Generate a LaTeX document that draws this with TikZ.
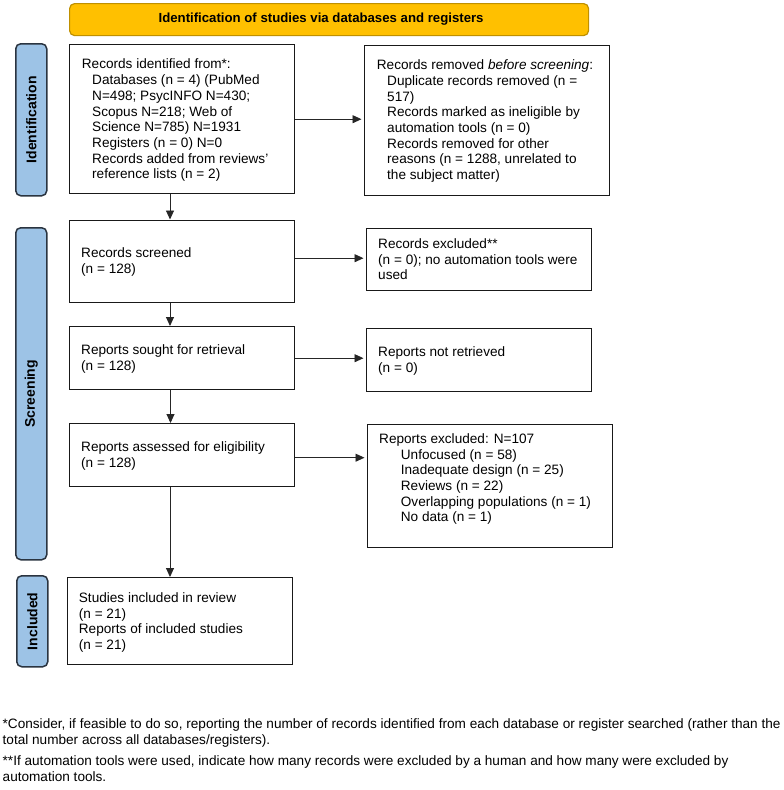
\documentclass[tikz,border=0pt]{standalone}
\usepackage{fontspec}
\setmainfont{Liberation Sans}
\usetikzlibrary{arrows.meta,calc}
\definecolor{titlefill}{HTML}{FFC000}
\definecolor{titleborder}{HTML}{BF9000}
\definecolor{phasefill}{HTML}{9DC3E6}
\definecolor{phaseborder}{HTML}{2A3440}
\begin{document}
\begin{tikzpicture}[x=1pt,y=-1pt,
  box/.style={draw=black!90,line width=1.4pt,rectangle,inner sep=0pt,anchor=north west},
  txt/.style={anchor=north west,inner sep=0pt,align=left,font=\fontsize{13.6}{15.7}\selectfont},
  foot/.style={anchor=north west,inner sep=0pt,align=left,font=\fontsize{13.6}{16}\selectfont},
  phase/.style={draw=phaseborder,fill=phasefill,line width=1.5pt,rounded corners=5pt,rectangle,inner sep=0pt,anchor=north west},
  phaselabel/.style={rotate=90,inner sep=0pt,font=\fontsize{14}{15}\selectfont\bfseries},
  titlebar/.style={draw=titleborder,fill=titlefill,line width=1.2pt,rounded corners=5pt,rectangle,inner sep=0pt,anchor=north west},
  titlelabel/.style={inner sep=0pt,font=\fontsize{13.2}{15}\selectfont\bfseries},
  arr/.style={draw=black!85,line width=0.9pt,-{Triangle[length=9pt,width=8pt]}},
  harr/.style={arr,shorten >=2.5pt}]
\useasboundingbox (0,0) rectangle (784,790);
% title
\node[titlebar,minimum width=519pt,minimum height=32pt] (title) at (69,3) {};
\node[titlelabel] (titlel) at ([xshift=-8pt]title.center) {Identification of studies via databases and registers};
% phase bars
\node[phase,minimum width=31pt,minimum height=152pt] (pid) at (15,43) {};
\node[phaselabel] (pidl) at (pid.center) {Identification};
\node[phase,minimum width=31pt,minimum height=332pt] (pscr) at (15,227) {};
\node[phaselabel] (pscrl) at (pscr.center) {Screening};
\node[phase,minimum width=31pt,minimum height=91pt] (pinc) at (16,575) {};
\node[phaselabel] (pincl) at (pinc.center) {Included};
% boxes
\node[box,minimum width=225pt,minimum height=149pt] (b1) at (69,44) {};
\node[box,minimum width=245pt,minimum height=150pt] (b2) at (364,44.5) {};
\node[box,minimum width=225pt,minimum height=82pt] (b3) at (69,219.5) {};
\node[box,minimum width=225pt,minimum height=62pt] (b4) at (366,228) {};
\node[box,minimum width=225pt,minimum height=63pt] (b5) at (69,326) {};
\node[box,minimum width=225pt,minimum height=63pt] (b6) at (366,328) {};
\node[box,minimum width=225pt,minimum height=63pt] (b7) at (69,423) {};
\node[box,minimum width=245pt,minimum height=123pt] (b8) at (367,424) {};
\node[box,minimum width=225pt,minimum height=87pt] (b9) at (67,577) {};
% texts
\node[txt] (t1) at (81.7,57.8) {\strut Records identified from*:\\
\hspace*{10.3pt}Databases (n = 4) (PubMed\\
\hspace*{10.3pt}N=498; PsycINFO N=430;\\
\hspace*{10.3pt}Scopus N=218; Web of\\
\hspace*{10.3pt}Science N=785) N=1931\\
\hspace*{10.3pt}Registers (n = 0) N=0\\
\hspace*{10.3pt}Records added from reviews'\\
\hspace*{10.3pt}reference lists (n = 2)};
\node[txt] (t2) at (376.7,58.5) {\strut Records removed \textit{before screening}:\\
\hspace*{10.3pt}Duplicate records removed (n =\\
\hspace*{10.3pt}517)\\
\hspace*{10.3pt}Records marked as ineligible by\\
\hspace*{10.3pt}automation tools (n = 0)\\
\hspace*{10.3pt}Records removed for other\\
\hspace*{10.3pt}reasons (n = 1288, unrelated to\\
\hspace*{10.3pt}the subject matter)};
\node[txt] (t3) at (81,246.5) {\strut Records screened\\(n = 128)};
\node[txt] (t4) at (378,237.2) {\strut Records excluded**\\(n = 0); no automation tools were\\used};
\node[txt] (t5) at (81,343.5) {\strut Reports sought for retrieval\\(n = 128)};
\node[txt] (t6) at (378,345.5) {\strut Reports not retrieved\\(n = 0)};
\node[txt] (t7) at (81,440.5) {\strut Reports assessed for eligibility\\(n = 128)};
\node[txt] (t8) at (379,432.2) {\strut Reports excluded: N=107\\
\hspace*{21.7pt}Unfocused (n = 58)\\
\hspace*{21.7pt}Inadequate design (n = 25)\\
\hspace*{21.7pt}Reviews (n = 22)\\
\hspace*{21.7pt}Overlapping populations (n = 1)\\
\hspace*{21.7pt}No data (n = 1)};
\node[txt] (t9) at (78.7,591.2) {\strut Studies included in review\\(n = 21)\\Reports of included studies\\(n = 21)};
% footnotes
\node[foot] (f1) at (2.5,717.2) {\strut *Consider, if feasible to do so, reporting the number of records identified from each database or register searched (rather than the\\total number across all databases/registers).};
\node[foot] (f2) at (2.5,754.2) {\strut **If automation tools were used, indicate how many records were excluded by a human and how many were excluded by\\automation tools.};
% connectors
\draw[harr] (b1.east) -- (b1.east -| b2.west);
\draw[harr] ([yshift=3pt]b3.east) -- ([yshift=3pt]b3.east -| b4.west);
\draw[harr] (b5.east) -- (b5.east -| b6.west);
\draw[harr] ([yshift=-2.5pt]b7.east) -- ([yshift=-2.5pt]b7.east -| b8.west);
\draw[arr] ([xshift=101pt]b1.south west) -- ([xshift=101pt]b1.south west |- b3.north);
\draw[arr] ([xshift=101pt]b3.south west) -- ([xshift=101pt]b3.south west |- b5.north);
\draw[arr] ([xshift=101.5pt]b5.south west) -- ([xshift=101.5pt]b5.south west |- b7.north);
\draw[arr] ([xshift=101pt]b7.south west) -- ([xshift=101pt]b7.south west |- b9.north);
\end{tikzpicture}
\end{document}
